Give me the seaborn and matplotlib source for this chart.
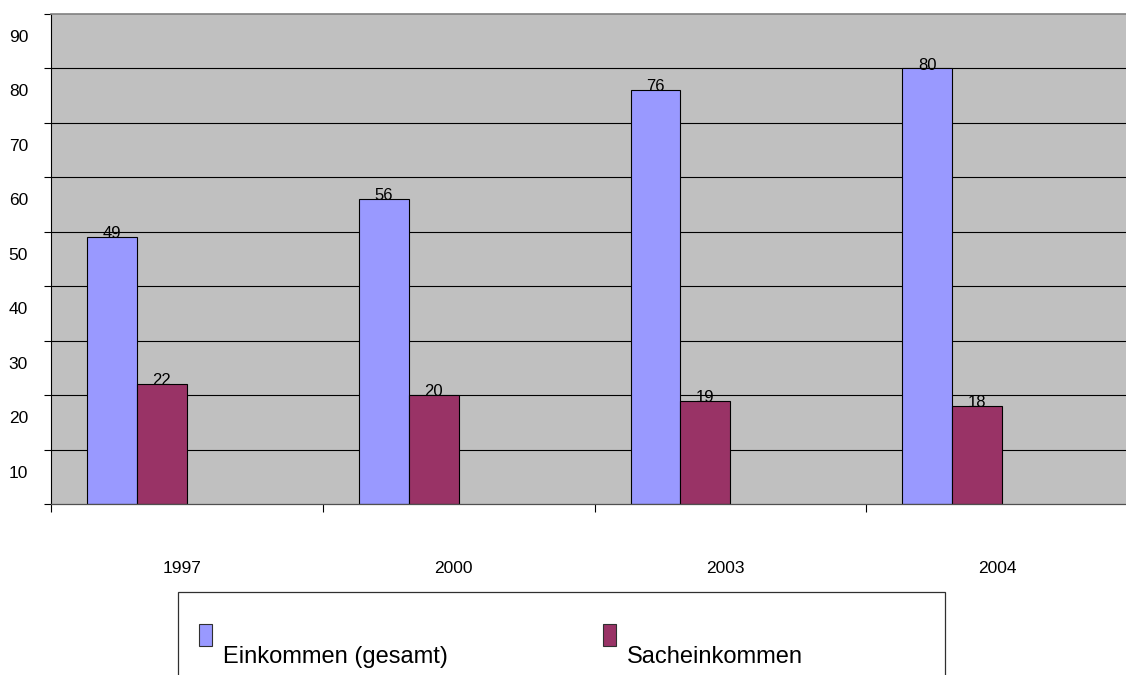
"""Einkommen vs. Sacheinkommen, grouped bars in old Excel chart look."""

import matplotlib
matplotlib.use("Agg")
import matplotlib.pyplot as plt
from matplotlib.patches import Rectangle
from matplotlib.transforms import ScaledTranslation
import seaborn as sns
import pandas as pd

years = ["1997", "2000", "2003", "2004"]
einkommen = [49, 56, 76, 80]
sacheinkommen = [22, 20, 19, 18]
series = ["Einkommen (gesamt)", "Sacheinkommen"]
colors = ["#9999FF", "#993366"]
y_ticks = [0, 10, 20, 30, 40, 50, 60, 70, 80, 90]

sns.set_theme(style="white")
plt.rcParams["font.family"] = ["Liberation Sans", "DejaVu Sans"]

df = pd.DataFrame({
    "Jahr": years * 2,
    "Reihe": [series[0]] * len(years) + [series[1]] * len(years),
    "Wert": einkommen + sacheinkommen,
})

# the original chart reserves room for two empty series after the real ones
hue_order = series + ["_leer1", "_leer2"]
palette = dict(zip(hue_order, colors + ["#C0C0C0", "#C0C0C0"]))

fig = plt.figure(figsize=(11.26, 6.75), dpi=100)
ax = fig.add_axes([51 / 1126, 1 - 504 / 675, (1138 - 51) / 1126, (504 - 14) / 675])
ax.set_facecolor("#C0C0C0")

sns.barplot(data=df, x="Jahr", y="Wert", hue="Reihe", order=years,
            hue_order=hue_order, palette=palette, width=0.735,
            saturation=1, edgecolor="black", linewidth=0.8,
            legend=False, ax=ax)

values = [einkommen, sacheinkommen]
for cont, vals in zip(ax.containers, values):
    ax.bar_label(cont, labels=[str(v) for v in vals], padding=-3,
                 fontsize=12, color="black")

ax.set_xlim(-0.5, len(years) - 0.5)
ax.set_ylim(0, 90)
ax.set_xlabel("")
ax.set_ylabel("")

# y axis: gridlines, ticks, labels shifted below their lines
ax.set_yticks(y_ticks)
ax.set_yticklabels([""] + [str(t) for t in y_ticks[1:]])
ax.set_axisbelow(True)
ax.yaxis.grid(True, color="black", linewidth=0.8)
ax.get_ygridlines()[0].set_visible(False)
ax.get_ygridlines()[-1].set_visible(False)
ax.tick_params(axis="y", left=True, direction="out", length=5, width=0.8,
               color="black", pad=11.5, labelsize=12.5, labelcolor="black")
shift = ScaledTranslation(0, -0.22, fig.dpi_scale_trans)
for lab in ax.get_yticklabels():
    lab.set_transform(lab.get_transform() + shift)

# x axis: tick marks between categories, labels far below
ax.set_xticks([i - 0.5 for i in range(len(years))])
ax.set_xticklabels([])
ax.set_xticks(range(len(years)), minor=True)
ax.set_xticklabels(years, minor=True)
ax.tick_params(axis="x", which="major", bottom=True, direction="out",
               length=6, width=0.8, color="black")
ax.tick_params(axis="x", which="minor", bottom=True, length=0, pad=41,
               labelsize=12.5, labelcolor="black")
xshift = ScaledTranslation(-0.05, 0, fig.dpi_scale_trans)
for lab in ax.get_xticklabels(minor=True):
    lab.set_transform(lab.get_transform() + xshift)

ax.spines["left"].set_color("black")
ax.spines["left"].set_linewidth(0.8)
ax.spines["bottom"].set_color("#505050")
ax.spines["bottom"].set_linewidth(0.9)
ax.spines["top"].set_color("#808080")
ax.spines["top"].set_linewidth(1.2)
ax.spines["right"].set_visible(False)

# legend box, drawn like the original (cut off at the bottom)
fig.patches.append(Rectangle((178 / 1126, -0.05), (945 - 178) / 1126,
                             1 - 592 / 675 + 0.05, transform=fig.transFigure,
                             facecolor="white", edgecolor="#303030",
                             linewidth=0.9))
for name, col, x0 in zip(series, colors, [199, 603]):
    fig.patches.append(Rectangle((x0 / 1126, 1 - 646 / 675), 13 / 1126,
                                 22 / 675, transform=fig.transFigure,
                                 facecolor=col, edgecolor="#303030",
                                 linewidth=0.8))
    fig.text((x0 + 24) / 1126, 1 - 663 / 675, name, fontsize=17,
             color="black", va="baseline", ha="left")

fig.savefig("out.png", dpi=100)
plt.close(fig)
